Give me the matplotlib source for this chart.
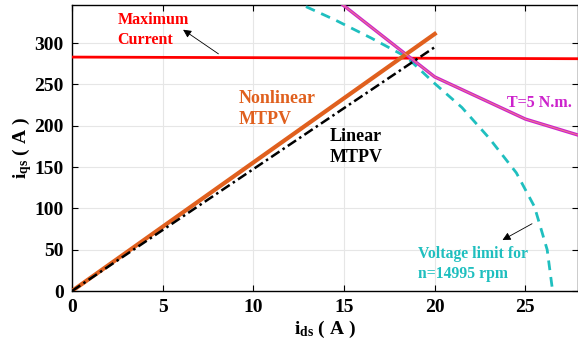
import matplotlib
matplotlib.use("Agg")
import numpy as np
import matplotlib.pyplot as plt

plt.rcParams["font.family"] = ["Liberation Serif", "DejaVu Serif"]
plt.rcParams["font.weight"] = "bold"
plt.rcParams["mathtext.fontset"] = "custom"
plt.rcParams["mathtext.rm"] = "Liberation Serif:bold"
plt.rcParams["mathtext.it"] = "Liberation Serif:bold"
plt.rcParams["mathtext.bf"] = "Liberation Serif:bold"

# curves in the id-iq plane (A)
mtpv_lin_id = [0, 20]
mtpv_lin_iq = [0, 295]
mtpv_nl_id = [0, 20]
mtpv_nl_iq = [0, 311]

imax_id = [0, 28]
imax_iq = [283, 281]

volt_id = [11.5, 12.8, 14.5, 16.5, 18.45, 20.0, 21.5, 23.0, 24.5, 25.5, 26.2, 26.5]
volt_iq = [360, 345, 328, 306, 283, 251, 222, 185, 143, 102, 50, 0]

torque_id = [14.5, 15.0, 20.0, 25.0, 28.0]
torque_iq = [354, 345, 259, 208, 188]

xticks = [0, 5, 10, 15, 20, 25]
yticks = [0, 50, 100, 150, 200, 250, 300]

fig = plt.figure(figsize=(5.78, 3.54), dpi=100)
ax = fig.add_axes([72 / 578, 63 / 354, 506 / 578, 286 / 354])

ax.plot(imax_id, imax_iq, color="#ff0000", lw=2.0, zorder=3)
ax.plot(volt_id, volt_iq, color="#1fbfbf", lw=2.0, ls=(0, (3.5, 2.5)), zorder=3)
ax.plot(torque_id, torque_iq, color="#cc22cc", lw=2.4, zorder=4)
ax.plot(torque_id, torque_iq, color="#f08080", lw=0.7, zorder=5)
ax.plot(mtpv_nl_id, mtpv_nl_iq, color="#e0601e", lw=3.0, zorder=4)
ax.plot(mtpv_lin_id, mtpv_lin_iq, color="black", lw=1.8, ls=(0, (4, 1.5, 1, 1.5)), zorder=5)

ax.set_xlim(0, 27.9)
ax.set_ylim(0, 346)
ax.set_xticks(xticks)
ax.set_yticks(yticks)
ax.tick_params(direction="in", top=True, right=True, labelsize=14, length=4, pad=6)
for lab in ax.get_xticklabels() + ax.get_yticklabels():
    lab.set_fontweight("bold")
ax.grid(True, color="#e6e6e6", lw=0.8)
ax.set_axisbelow(True)
for s in ax.spines.values():
    s.set_linewidth(1.0)

ax.set_xlabel(r"$\mathregular{i_{ds}}$ ( A )", fontsize=14, fontweight="bold", labelpad=2)
ax.set_ylabel(r"$\mathregular{i_{qs}}$ ( A )", fontsize=14, fontweight="bold", labelpad=0)

ax.text(2.5, 337, "Maximum\nCurrent", color="#ff0000", fontsize=11.5, fontweight="bold",
        va="top", ha="left", linespacing=1.3)
ax.annotate("", xy=(6.0, 318), xytext=(8.2, 285),
            arrowprops=dict(arrowstyle="-|>", color="black", lw=0.6, mutation_scale=12))

ax.text(9.2, 243, "Nonlinear\nMTPV", color="#e0601e", fontsize=13, fontweight="bold",
        va="top", ha="left", linespacing=1.3)
ax.text(14.2, 197, "Linear\nMTPV", color="black", fontsize=13, fontweight="bold",
        va="top", ha="left", linespacing=1.3)
ax.text(24.0, 228, "T=5 N.m.", color="#cc22cc", fontsize=11.5, fontweight="bold",
        va="center", ha="left")
ax.text(19.1, 54, "Voltage limit for\nn=14995 rpm", color="#1fbfbf", fontsize=11.3,
        fontweight="bold", va="top", ha="left", linespacing=1.3)
ax.annotate("", xy=(23.6, 60), xytext=(25.5, 83),
            arrowprops=dict(arrowstyle="-|>", color="black", lw=0.6, mutation_scale=12))

fig.savefig("out.png", dpi=100)
